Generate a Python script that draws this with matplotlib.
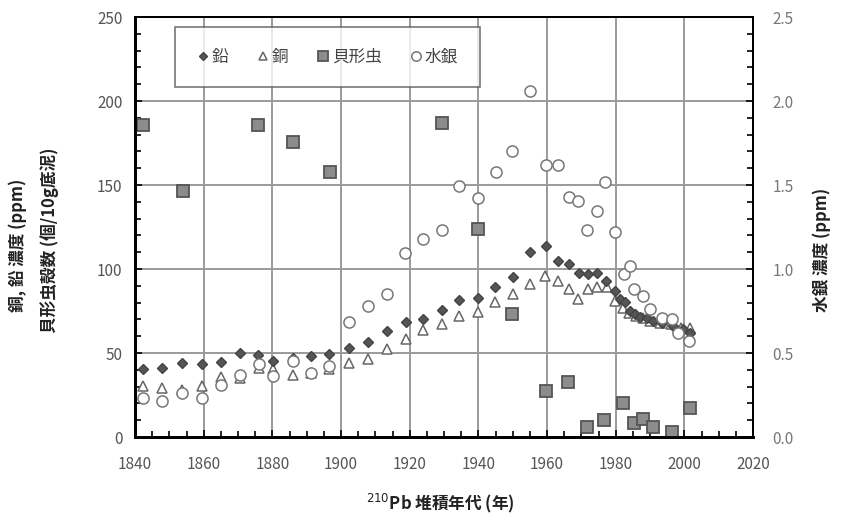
import numpy as np
import matplotlib
matplotlib.use("Agg")
import matplotlib.pyplot as plt
from matplotlib.ticker import MultipleLocator

plt.rcParams['font.family'] = ['Noto Sans CJK JP', 'DejaVu Sans']

# 鉛 (ppm)
pb_year = [1842.4, 1847.8, 1853.6, 1859.4, 1865.0, 1870.6, 1875.9, 1880.3, 1886.0, 1891.2,
           1896.6, 1902.2, 1908.0, 1913.3, 1918.9, 1924.0, 1929.3, 1934.5, 1939.8, 1944.9,
           1950.0, 1955.0, 1959.7, 1963.3, 1966.4, 1969.4, 1972.0, 1974.7, 1977.2, 1979.8,
           1981.3, 1982.7, 1984.2, 1985.6, 1987.1, 1989.0, 1991.0, 1993.5, 1996.8, 1999.7, 2001.7]
pb_val = [40.2, 41.2, 44.2, 43.6, 44.6, 50.2, 48.6, 45.2, 47.0, 48.2,
          49.2, 53.2, 56.6, 63.0, 68.5, 70.1, 75.7, 81.7, 82.5, 89.1,
          95.1, 110.0, 113.5, 105.0, 103.0, 97.7, 97.1, 97.5, 93.1, 87.1,
          82.1, 80.2, 75.1, 73.1, 71.7, 71.1, 69.1, 68.0, 66.1, 64.1, 62.0]

# 銅 (ppm)
cu_year = [1842.4, 1847.8, 1853.6, 1859.4, 1865.0, 1870.6, 1876.0, 1880.3, 1886.0, 1891.2,
           1896.6, 1902.2, 1908.0, 1913.3, 1918.9, 1924.0, 1929.3, 1934.5, 1939.8, 1944.9,
           1950.0, 1955.1, 1959.5, 1963.3, 1966.5, 1969.1, 1972.0, 1974.5, 1977.4, 1979.8,
           1982.0, 1984.0, 1986.0, 1988.0, 1990.0, 1993.0, 1996.0, 1999.0, 2001.7]
cu_val = [30.2, 29.2, 28.2, 30.2, 36.0, 35.0, 41.2, 40.2, 37.2, 38.0,
          40.2, 44.2, 46.2, 52.2, 58.2, 63.7, 67.1, 72.1, 74.2, 80.2,
          85.1, 91.1, 96.1, 93.1, 88.1, 82.1, 88.1, 89.1, 89.1, 81.1,
          77.0, 74.0, 72.0, 71.0, 69.0, 68.0, 67.0, 65.0, 65.0]

# 貝形虫殻数 (個/10g底泥)
os_year = [1842.4, 1854.1, 1875.9, 1885.9, 1896.8, 1929.3, 1940.0, 1949.7, 1959.7, 1966.2,
           1971.6, 1976.7, 1982.2, 1985.2, 1987.9, 1991.0, 1996.3, 2001.7]
os_val = [186.0, 146.5, 186.0, 175.7, 157.7, 187.0, 124.1, 73.1, 27.2, 32.8,
          6.2, 10.2, 20.2, 8.2, 10.6, 6.2, 3.2, 17.2]

# 水銀 (ppm)
hg_year = [1842.4, 1847.8, 1853.6, 1859.4, 1865.0, 1870.6, 1876.0, 1880.3, 1886.0, 1891.2,
           1896.6, 1902.2, 1908.0, 1913.3, 1918.6, 1923.8, 1929.3, 1934.5, 1940.0, 1945.1,
           1949.7, 1955.1, 1959.6, 1963.3, 1966.4, 1969.1, 1971.6, 1974.5, 1976.9, 1979.7,
           1982.3, 1984.2, 1985.2, 1988.0, 1990.0, 1993.4, 1996.3, 1998.2, 2001.3]
hg_val = [0.232, 0.212, 0.262, 0.232, 0.312, 0.372, 0.432, 0.362, 0.452, 0.382,
          0.422, 0.683, 0.78, 0.851, 1.097, 1.177, 1.231, 1.497, 1.421, 1.575,
          1.701, 2.061, 1.62, 1.617, 1.431, 1.405, 1.23, 1.347, 1.517, 1.223,
          0.97, 1.015, 0.88, 0.84, 0.76, 0.71, 0.70, 0.62, 0.57]

fig = plt.figure(figsize=(8.41, 5.24), dpi=100)
ax = fig.add_axes([135 / 841, 87 / 524, 618 / 841, 420 / 524])
ax2 = ax.twinx()

ax.set_xlim(1840, 2020)
ax.set_ylim(0, 250)
ax2.set_ylim(0, 2.5)

ax.xaxis.set_major_locator(MultipleLocator(20))
ax.xaxis.set_minor_locator(MultipleLocator(5))
ax.yaxis.set_major_locator(MultipleLocator(50))
ax.yaxis.set_minor_locator(MultipleLocator(10))
ax2.yaxis.set_major_locator(MultipleLocator(0.5))
ax2.yaxis.set_minor_locator(MultipleLocator(0.1))
ax2.yaxis.set_major_formatter(matplotlib.ticker.FormatStrFormatter('%.1f'))

ax.grid(True, which='major', color='#9a9a9a', linewidth=1.4)
ax.set_axisbelow(True)

ax.tick_params(axis='x', which='both', direction='in', labelsize=11, labelcolor='#555555', pad=14)
ax.tick_params(axis='y', which='both', direction='in', labelsize=11, labelcolor='#555555', pad=9)
ax.tick_params(which='major', length=5, width=1.2)
ax.tick_params(which='minor', length=4, width=1.2)
ax2.tick_params(axis='y', which='both', direction='in', labelsize=11, labelcolor='#777777', pad=14)
ax2.tick_params(which='major', length=5, width=1.2)
ax2.tick_params(which='minor', length=4, width=1.2)

for sp in ['left', 'bottom']:
    ax.spines[sp].set_linewidth(2.0)
for sp in ['top', 'right']:
    ax.spines[sp].set_linewidth(1.4)
    ax2.spines[sp].set_linewidth(1.4)
ax2.spines['left'].set_linewidth(2.0)
ax2.spines['bottom'].set_linewidth(2.0)

h_pb, = ax.plot(pb_year, pb_val, linestyle='none', marker='D', markersize=5,
                markerfacecolor='#555555', markeredgecolor='#444444', label='鉛', zorder=4)
h_cu, = ax.plot(cu_year, cu_val, linestyle='none', marker='^', markersize=6.5,
                markerfacecolor='white', markeredgecolor='#666666', markeredgewidth=1.1,
                label='銅', zorder=3)
h_os, = ax.plot(os_year, os_val, linestyle='none', marker='s', markersize=8,
                markerfacecolor='#8c8c8c', markeredgecolor='#555555', markeredgewidth=1.3,
                label='貝形虫', zorder=3)
h_hg, = ax2.plot(hg_year, hg_val, linestyle='none', marker='o', markersize=8,
                 markerfacecolor='white', markeredgecolor='#777777', markeredgewidth=1.1,
                 label='水銀', zorder=3)

leg = ax2.legend(handles=[h_pb, h_cu, h_os, h_hg], ncol=4, loc='upper left',
                 bbox_to_anchor=(175 / 841, 1 - 27 / 524), bbox_transform=fig.transFigure,
                 borderaxespad=0, fontsize=12, frameon=True, fancybox=False, borderpad=1.3,
                 handletextpad=0.1, columnspacing=1.7, handlelength=0.8, markerscale=0.85)
leg.get_frame().set_edgecolor('#555555')
leg.get_frame().set_linewidth(1.2)
for t in leg.get_texts():
    t.set_color('#444444')

fig.text(18 / 841, 1 - 245 / 524, '銅, 鉛 濃度 (ppm)', rotation=90, ha='center', va='center',
         fontsize=12, fontweight='bold', color='#222222')
fig.text(50 / 841, 1 - 240 / 524, '貝形虫殻数 (個/10g底泥)', rotation=90, ha='center', va='center',
         fontsize=12, fontweight='bold', color='#222222')
fig.text(822 / 841, 1 - 250 / 524, '水銀 濃度 (ppm)', rotation=90, ha='center', va='center',
         fontsize=12, fontweight='bold', color='#222222')
fig.text(440 / 841, 1 - 503 / 524, '$^{210}$Pb 堆積年代 (年)', ha='center', va='center',
         fontsize=12, fontweight='bold', color='#222222')

fig.savefig('out.png', dpi=100)
